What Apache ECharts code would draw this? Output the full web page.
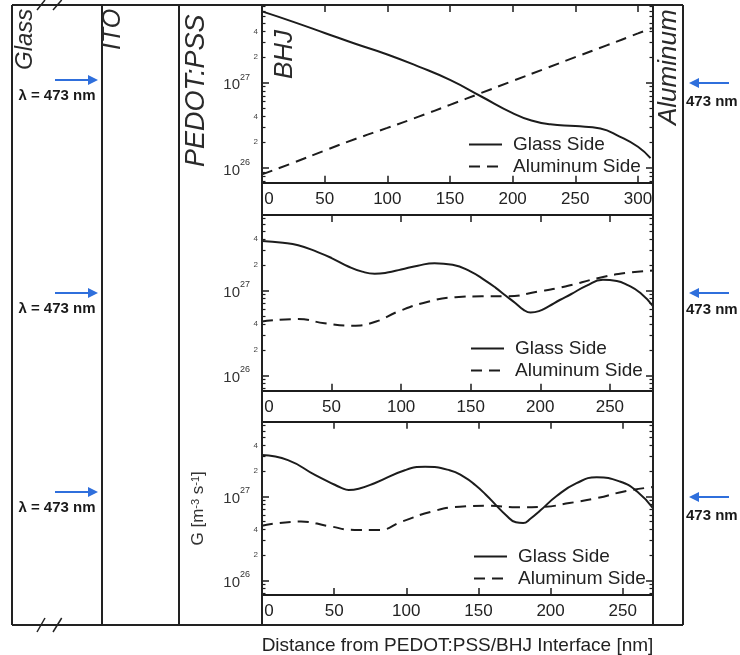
<!DOCTYPE html>
<html><head><meta charset="utf-8">
<script src="https://cdn.jsdelivr.net/npm/echarts@6/dist/echarts.min.js"></script>
<style>html,body{margin:0;padding:0;background:#fff}#c{width:740px;height:655px}</style>
</head><body><div id="c"></div>
<script>
// ---------- data ----------
// Panel 1
const p1GlassX = [0, 25, 50, 75, 100, 125, 150, 175, 200, 215, 230, 250, 270, 285, 300, 310];
const p1GlassG = [6.9e27, 5.2e27, 3.85e27, 2.85e27, 2.15e27, 1.55e27, 1.08e27, 6.9e26, 4.4e26, 3.6e26, 3.25e26, 3.1e26, 2.9e26, 2.35e26, 1.77e26, 1.3e26];
const p1AlX = [0, 25, 50, 75, 100, 125, 150, 175, 200, 225, 250, 275, 300, 311];
const p1AlG = [8.4e25, 1.15e26, 1.6e26, 2.2e26, 2.95e26, 4.0e26, 5.5e26, 7.6e26, 1.05e27, 1.45e27, 2.0e27, 2.75e27, 3.8e27, 4.4e27];
// Panel 2
const p2GlassX = [0, 15, 26, 40, 50, 62, 72, 81, 90, 100, 112, 124, 137, 150, 160, 168, 175, 182, 188, 193, 199, 206, 214, 222, 233, 245, 255, 262, 272, 281];
const p2GlassG = [3.8e27, 3.63e27, 3.39e27, 2.82e27, 2.4e27, 1.91e27, 1.66e27, 1.57e27, 1.62e27, 1.76e27, 1.95e27, 2.09e27, 2.0e27, 1.66e27, 1.32e27, 1.07e27, 8.7e26, 7.1e26, 5.9e26, 5.5e26, 5.7e26, 6.5e26, 7.7e26, 9.0e26, 1.13e27, 1.33e27, 1.29e27, 1.17e27, 9.3e26, 6.5e26];
const p2AlX = [0, 26, 45, 65, 82, 98, 120, 139, 158, 175, 199, 218, 242, 261, 281];
const p2AlG = [4.3e26, 4.6e26, 4.1e26, 3.84e26, 4.3e26, 5.65e26, 7.4e26, 8.3e26, 8.5e26, 8.5e26, 9.7e26, 1.11e27, 1.4e27, 1.6e27, 1.71e27];
// Panel 3
const p3GlassX = [0, 18, 37, 50, 55, 60, 67, 78, 99, 113, 130, 140, 148, 155, 162, 169, 176, 181, 186, 193, 204, 218, 232, 248, 260, 271];
const p3GlassG = [3.09e27, 2.69e27, 1.78e27, 1.38e27, 1.26e27, 1.19e27, 1.23e27, 1.43e27, 2.04e27, 2.24e27, 2.04e27, 1.7e27, 1.35e27, 1.05e27, 7.9e26, 6.0e26, 4.9e26, 4.8e26, 5.4e26, 6.8e26, 1.0e27, 1.43e27, 1.68e27, 1.5e27, 1.14e27, 7.2e26];
const p3AlX = [0, 27, 46, 64, 81, 97, 118, 137, 158, 176, 195, 213, 232, 251, 271];
const p3AlG = [4.47e26, 5.0e26, 4.43e26, 3.98e26, 3.98e26, 5.0e26, 6.6e26, 7.5e26, 7.7e26, 7.4e26, 7.5e26, 8.3e26, 9.5e26, 1.14e27, 1.29e27];

// axis ranges and tick values
const xMax = [312, 281, 271];
const yMin = [6.7e25, 6.6e25, 6.7e25];
const yMax = [8.2e27, 7.7e27, 7.7e27];
const xTickValues = [0, 50, 100, 150, 200, 250, 300];
const yMajorTicks = [1e26, 1e27];
const yMinorTicks = [7e25, 8e25, 9e25, 2e26, 3e26, 4e26, 5e26, 6e26, 7e26, 8e26, 9e26, 2e27, 3e27, 4e27, 5e27, 6e27, 7e27, 8e27];
const ySmallLabels = [2e26, 4e26, 2e27, 4e27];
const seriesNames = ['Glass Side', 'Aluminum Side'];

// ---------- layout ----------
const FONT = 'Liberation Sans, Arial, sans-serif';
const INK = '#1c1c1c';
const DASH = [11, 7];
const grids = [
  {left: 262, top: 5, width: 391, height: 177.7},
  {left: 262, top: 215, width: 391, height: 175.7},
  {left: 262, top: 421.7, width: 391, height: 173.3}
];
const legendTops = [135, 339, 547];
const legendLefts = [468, 470, 473];

const xAxes = [], yAxes = [], series = [], legends = [];
const panels = [
  [p1GlassX, p1GlassG, p1AlX, p1AlG],
  [p2GlassX, p2GlassG, p2AlX, p2AlG],
  [p3GlassX, p3GlassG, p3AlX, p3AlG]
];

panels.forEach((p, gi) => {
  const xBase = {type: 'value', gridIndex: gi, min: 0, max: xMax[gi], splitLine: {show: false}};
  xAxes.push(Object.assign({}, xBase, {
    position: 'bottom',
    axisLine: {show: true, onZero: false, lineStyle: {color: INK, width: 2}},
    axisTick: {show: true, inside: true, length: 7, customValues: xTickValues, lineStyle: {color: INK, width: 1.5}},
    axisLabel: {
      show: true, customValues: xTickValues, margin: 8, color: '#222', fontSize: 17, fontFamily: FONT,
      formatter: v => v === 0 ? '{z|0}' : String(v),
      rich: {z: {padding: [0, 0, 0, 14], fontSize: 17, color: '#222', fontFamily: FONT}}
    },
    name: gi === 2 ? 'Distance from PEDOT:PSS/BHJ Interface [nm]' : '',
    nameLocation: 'middle', nameGap: 41,
    nameTextStyle: {fontSize: 19, color: '#222', fontFamily: FONT}
  }));
  xAxes.push(Object.assign({}, xBase, {
    position: 'top',
    axisLine: {show: true, onZero: false, lineStyle: {color: INK, width: 2}},
    axisTick: {show: true, inside: true, length: 7, customValues: xTickValues, lineStyle: {color: INK, width: 1.5}},
    axisLabel: {show: false}
  }));

  const yBase = {type: 'log', logBase: 10, gridIndex: gi, min: yMin[gi], max: yMax[gi], splitLine: {show: false}, minorTick: {show: false}};
  yAxes.push(Object.assign({}, yBase, {
    position: 'left',
    axisLine: {show: true, onZero: false, lineStyle: {color: INK, width: 2}},
    axisTick: {show: true, inside: true, length: 7, customValues: yMajorTicks, lineStyle: {color: INK, width: 1.5}},
    axisLabel: {
      show: true, customValues: yMajorTicks, margin: 12, color: '#333', fontFamily: FONT,
      formatter: v => '{b|10}{s|' + Math.round(Math.log10(v)) + '}',
      rich: {
        b: {fontSize: 15, color: '#333', fontFamily: FONT, lineHeight: 20, verticalAlign: 'bottom'},
        s: {fontSize: 9, color: '#333', fontFamily: FONT, lineHeight: 10, verticalAlign: 'top'}
      }
    },
    name: gi === 2 ? 'G [m{s|-3} s{s|-1}]' : '',
    nameLocation: 'middle', nameGap: 55, nameRotate: 90,
    nameTextStyle: {
      fontSize: 17, color: '#333', fontFamily: FONT,
      rich: {s: {fontSize: 11, color: '#333', fontFamily: FONT, lineHeight: 12, verticalAlign: 'top'}}
    }
  }));
  yAxes.push(Object.assign({}, yBase, {
    position: 'left',
    axisLine: {show: false, onZero: false},
    axisTick: {show: true, inside: true, length: 3.5, customValues: yMinorTicks, lineStyle: {color: INK, width: 1.2}},
    axisLabel: {
      show: true, customValues: ySmallLabels, margin: 4, color: '#444', fontSize: 8, fontFamily: FONT,
      formatter: v => String(Math.round(v / Math.pow(10, Math.floor(Math.log10(v) + 1e-9))))
    }
  }));
  yAxes.push(Object.assign({}, yBase, {
    position: 'right',
    axisLine: {show: true, onZero: false, lineStyle: {color: INK, width: 2}},
    axisTick: {show: true, inside: true, length: 7, customValues: yMajorTicks, lineStyle: {color: INK, width: 1.5}},
    axisLabel: {show: false}
  }));
  yAxes.push(Object.assign({}, yBase, {
    position: 'right',
    axisLine: {show: false, onZero: false},
    axisTick: {show: true, inside: true, length: 3.5, customValues: yMinorTicks, lineStyle: {color: INK, width: 1.2}},
    axisLabel: {show: false}
  }));

  const zip = (xs, gs) => xs.map((x, i) => [x, gs[i]]);
  series.push({
    type: 'line', name: seriesNames[0], xAxisIndex: 2 * gi, yAxisIndex: 4 * gi,
    data: zip(p[0], p[1]), symbol: 'none', smooth: 0.5,
    lineStyle: {color: INK, width: 2, type: 'solid'}, itemStyle: {color: INK}
  });
  series.push({
    type: 'line', name: seriesNames[1], xAxisIndex: 2 * gi, yAxisIndex: 4 * gi,
    data: zip(p[2], p[3]), symbol: 'none', smooth: 0.5,
    lineStyle: {color: INK, width: 2, type: DASH}, itemStyle: {color: INK}
  });
  legends.push({
    orient: 'vertical', left: legendLefts[gi], top: legendTops[gi], padding: 0,
    itemWidth: 33, itemHeight: 14, itemGap: 3, selectedMode: false,
    itemStyle: {opacity: 0},
    data: [
      {name: seriesNames[0], lineStyle: {type: 'solid', color: INK, width: 2}},
      {name: seriesNames[1], lineStyle: {type: DASH, color: INK, width: 2}}
    ],
    textStyle: {fontSize: 19, color: '#222', fontFamily: FONT, padding: [0, 0, 0, 6]}
  });
});

// ---------- decorations (layer stack frame, labels, light arrows) ----------
const g = [];
const line = (x1, y1, x2, y2, w, c) => g.push({type: 'line', silent: true, shape: {x1, y1, x2, y2}, style: {stroke: c || '#222', lineWidth: w || 2}, z: 10});
line(12, 5, 683, 5); line(12, 625, 683, 625);
[12, 102, 179, 262, 653, 683].forEach(x => line(x, 5, x, 625));
// break marks
line(37, 10, 45, 0, 1.5); line(53, 10, 61.7, 0, 1.5);
line(37, 632, 45, 618, 1.5); line(53, 632, 61.7, 618, 1.5);

const rotText = (txt, x, y, size) => g.push({
  type: 'text', silent: true, x, y, rotation: Math.PI / 2, z: 11,
  style: {text: txt, fontSize: size, fontStyle: 'italic', fontFamily: FONT, fill: '#2a2a2a', align: 'left', verticalAlign: 'middle'}
});
rotText('Glass', 25, 70, 24);
rotText('ITO', 113, 50, 25);
rotText('PEDOT:PSS', 196, 167, 27);
rotText('BHJ', 285, 79, 26);
rotText('Aluminum', 669, 125, 26);

const BLUE = '#2f6fdc';
const arrowRight = (y) => {
  g.push({type: 'line', silent: true, shape: {x1: 55, y1: y, x2: 90, y2: y}, style: {stroke: BLUE, lineWidth: 2}, z: 12});
  g.push({type: 'polygon', silent: true, shape: {points: [[98, y], [88, y - 5], [88, y + 5]]}, style: {fill: BLUE}, z: 12});
};
const arrowLeft = (y) => {
  g.push({type: 'line', silent: true, shape: {x1: 729, y1: y, x2: 697, y2: y}, style: {stroke: BLUE, lineWidth: 2}, z: 12});
  g.push({type: 'polygon', silent: true, shape: {points: [[689, y], [699, y - 5], [699, y + 5]]}, style: {fill: BLUE}, z: 12});
};
const lamText = (txt, x, y, align) => g.push({
  type: 'text', silent: true, x, y, z: 12,
  style: {text: txt, fontSize: 15, fontWeight: 'bold', fontFamily: FONT, fill: '#1a1a1a', align, verticalAlign: 'middle'}
});
[[80, 96], [293, 309], [492, 508]].forEach(([ay, ty]) => { arrowRight(ay); lamText('λ = 473 nm', 57, ty, 'center'); });
[[83, 102], [293, 310], [497, 516]].forEach(([ay, ty]) => { arrowLeft(ay); lamText('473 nm', 686, ty, 'left'); });

const chart = echarts.init(document.getElementById('c'), null, {renderer: 'canvas'});
chart.setOption({
  animation: false,
  backgroundColor: '#fff',
  grid: grids.map(gr => Object.assign({outerBoundsMode: 'none', containLabel: false}, gr)),
  xAxis: xAxes,
  yAxis: yAxes,
  legend: legends,
  series: series,
  graphic: {elements: g}
});
</script>
</body></html>
